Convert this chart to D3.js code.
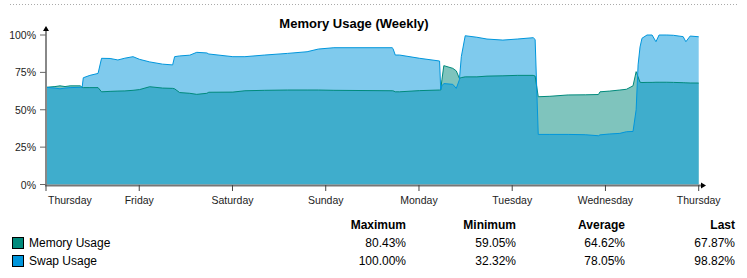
<!DOCTYPE html>
<html><head><meta charset="utf-8">
<script src="https://cdn.jsdelivr.net/npm/d3@7"></script>
<style>body{margin:0;background:#fff;}svg{display:block;font-family:"Liberation Sans",Arial,sans-serif;}</style>
</head><body><div id="c"></div>
<script>
// hours since Thursday 00:00
const hours = [0,2.3,3.6,4.9,6.2,8.8,9.3,9.6,11.3,13.4,14.3,16.5,18.5,20.3,22.4,24.1,26.7,30.0,32.6,33.1,34.4,37.0,38.8,41.4,41.9,48.1,51.2,56.3,62.2,67.2,70.1,74.1,89.1,89.3,89.9,91.0,96.2,101.3,101.6,101.9,102.4,104.7,105.6,106.4,106.9,107.9,110.9,113.5,117.6,121.3,125.4,125.9,126.7,129.7,134.4,138.8,142.2,142.6,145.1,147.7,149.4,151.1,151.9,152.4,152.9,153.4,154.7,156.0,157.0,157.8,159.8,161.5,164.0,164.7,165.8,168];
const memory = [65,65.5,66,65.5,66,66,65,64.8,64.8,64.8,62,62.3,62.5,62.6,63,63.5,65.4,64.5,64.3,64,61.5,61,60.3,61,61.7,61.8,62.7,63,63.2,63.2,63.2,63,62.7,62.7,62,62,62.8,63.2,63.2,70,79.5,77.7,76,71,71.5,72,72,72.5,72.7,73,73,72.5,58.7,59,59.9,60,60.2,62,62.5,63.2,63.7,66,75.5,72,68.4,68.2,68.3,68.3,68.4,68.4,68.4,68.3,68.1,68,67.9,67.87];
const swap = [65,64.5,64,64.5,64.8,65,65,71.4,73,74.3,84.4,84.3,83.3,84.5,85.5,83.7,82,80.5,80,85.5,86,86.5,88.4,88,87.3,85.5,85.5,86.6,87.7,88.8,90.6,91.5,91.5,91,86.6,86.6,84.4,82.6,63.5,66,67.5,67,64.3,70,85.5,99.5,98.5,97.3,96.6,97.3,98.2,97,33.5,33.5,33.5,33.3,32.6,33.2,33.8,34.2,35.3,35.5,50,80,92,97.8,100,100,95.5,100,100,99.8,98.9,95.5,99.3,98.82];
const dayLabels = ["Thursday","Friday","Saturday","Sunday","Monday","Tuesday","Wednesday","Thursday"];
const yTicks = [0,25,50,75,100];
const seriesNames = ["Memory Usage","Swap Usage"];
const seriesColors = ["#008a7c","#0096dc"];
const statHeaders = ["Maximum","Minimum","Average","Last"];
const memStats = ["80.43%","59.05%","64.62%","67.87%"];
const swapStats = ["100.00%","32.32%","78.05%","98.82%"];

const W=747,H=278;
const svg=d3.select("#c").append("svg").attr("width",W).attr("height",H);
const x=d3.scaleLinear().domain([0,168]).range([46,698.7]);
const y=d3.scaleLinear().domain([0,100]).range([184.5,35]);

// top dotted border
svg.append("line").attr("x1",10).attr("x2",738).attr("y1",4.5).attr("y2",4.5)
  .attr("stroke","#aaa").attr("stroke-dasharray","1,2");

svg.append("text").attr("x",354).attr("y",28).attr("text-anchor","middle")
  .attr("font-size","13px").attr("font-weight","bold").attr("fill","#000").text("Memory Usage (Weekly)");

const series=[memory,swap];
series.forEach((vals,i)=>{
  const pts=hours.map((h,j)=>[h,vals[j]]);
  const area=d3.area().x(d=>x(d[0])).y0(y(0)).y1(d=>y(d[1]));
  svg.append("path").attr("d",area(pts)).attr("fill",seriesColors[i]).attr("fill-opacity",0.5);
});
series.forEach((vals,i)=>{
  const pts=hours.map((h,j)=>[h,vals[j]]);
  const line=d3.line().x(d=>x(d[0])).y(d=>y(d[1]));
  svg.append("path").attr("d",line(pts)).attr("fill","none").attr("stroke",seriesColors[i]).attr("stroke-width",1);
});

// y axis
const yAxis=svg.append("g");
yAxis.append("line").attr("x1",46).attr("x2",46).attr("y1",185.5).attr("y2",29).attr("stroke","#888").attr("stroke-width",2);
yAxis.append("path").attr("d","M43,31 L46,26 L49,31 Z").attr("fill","#000");
yTicks.forEach(t=>{
  yAxis.append("line").attr("x1",40).attr("x2",46).attr("y1",y(t)).attr("y2",y(t)).attr("stroke","#666").attr("stroke-width",1);
  yAxis.append("text").attr("x",36).attr("y",y(t)+4).attr("text-anchor","end").attr("font-size","10.5px").attr("fill","#222").text(t+"%");
});

// x axis
const xAxis=svg.append("g");
xAxis.append("line").attr("x1",45).attr("x2",702).attr("y1",185.5).attr("y2",185.5).attr("stroke","#777").attr("stroke-width",2);
xAxis.append("path").attr("d","M701,182.5 L706,185.5 L701,188.5 Z").attr("fill","#000");
dayLabels.forEach((lab,i)=>{
  const px=x(i*24);
  xAxis.append("line").attr("x1",px).attr("x2",px).attr("y1",185).attr("y2",191).attr("stroke","#444").attr("stroke-width",1);
  const t=xAxis.append("text").attr("y",204).attr("font-size","10.5px").attr("fill","#222").text(lab);
  if(i===0) t.attr("x",px+2).attr("text-anchor","start");
  else t.attr("x",px).attr("text-anchor","middle");
});

// legend table
const colRight=[406,516,625,735];
statHeaders.forEach((h,i)=>{
  svg.append("text").attr("x",colRight[i]).attr("y",229).attr("text-anchor","end")
    .attr("font-size","12px").attr("font-weight","bold").attr("fill","#000").text(h);
});
const rows=[memStats,swapStats];
const rowY=[247,265];
rows.forEach((vals,r)=>{
  svg.append("rect").attr("x",12.5).attr("y",rowY[r]-9.5).attr("width",11).attr("height",11)
    .attr("fill",seriesColors[r]).attr("stroke","#000").attr("stroke-width",1);
  svg.append("text").attr("x",29).attr("y",rowY[r]).attr("font-size","12px").attr("fill","#000").text(seriesNames[r]);
  vals.forEach((v,i)=>{
    svg.append("text").attr("x",colRight[i]).attr("y",rowY[r]).attr("text-anchor","end")
      .attr("font-size","12px").attr("fill","#000").text(v);
  });
});
</script></body></html>
